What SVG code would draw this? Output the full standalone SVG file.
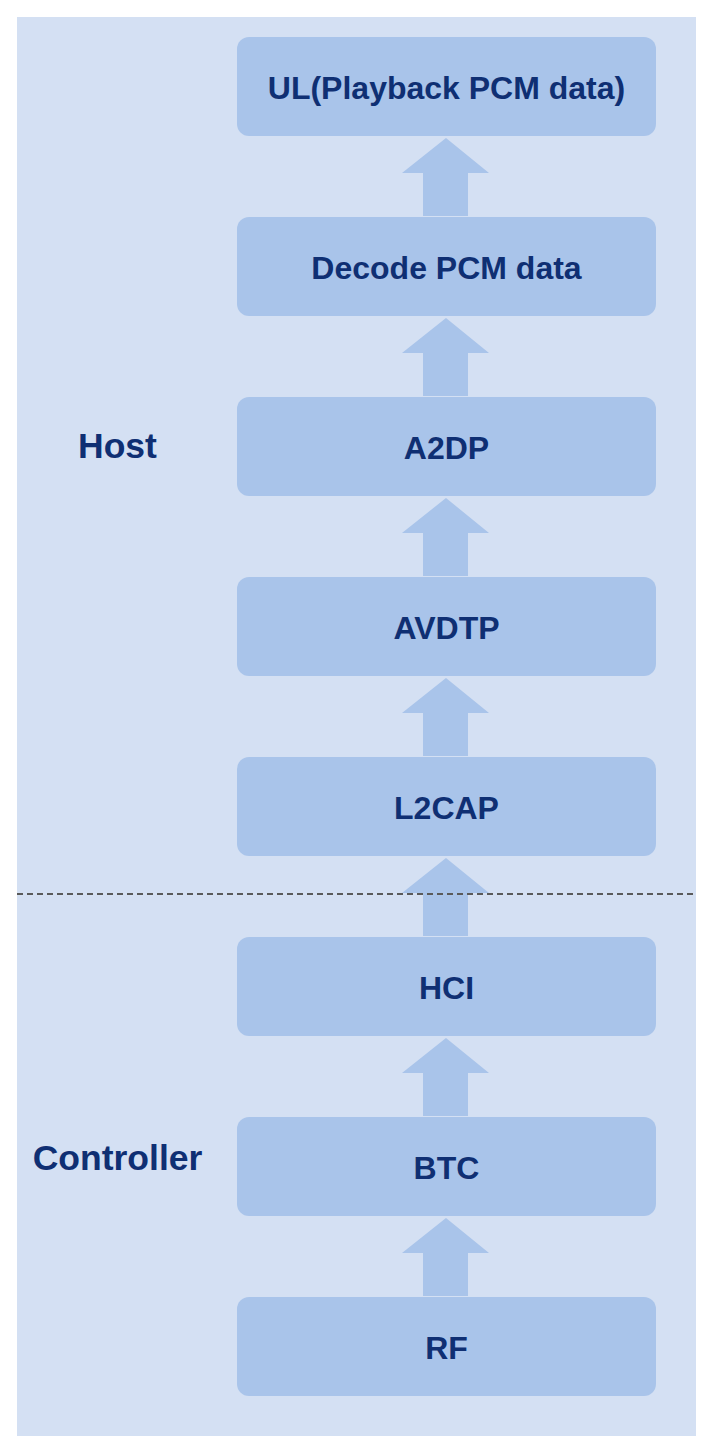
<svg xmlns="http://www.w3.org/2000/svg" width="716" height="1454" viewBox="0 0 716 1454">
<style>
.node rect{fill:#A9C4EA;}
.node text{font-family:"Liberation Sans",Arial,sans-serif;font-weight:bold;font-size:32px;fill:#0F2F73;text-anchor:middle;}
.lbl{font-family:"Liberation Sans",Arial,sans-serif;font-weight:bold;font-size:35.5px;fill:#0F2F73;text-anchor:middle;}
.arrow{fill:#A9C4EA;}
</style>
<defs>
<path id="up" d="M0,0 L43,35 L22,35 L22,78 L-23,78 L-23,35 L-44,35 Z"/>
</defs>
<rect x="0" y="0" width="716" height="1454" fill="#ffffff"/>
<rect id="bg" x="17" y="17" width="679" height="1419" fill="#D4E0F3"/>
<g id="n1" class="node"><rect x="237" y="37" width="419" height="99" rx="12"/><text x="446.5" y="98.5">UL(Playback PCM data)</text></g>
<g id="n2" class="node"><rect x="237" y="217" width="419" height="99" rx="12"/><text x="446.5" y="278.5">Decode PCM data</text></g>
<g id="n3" class="node"><rect x="237" y="397" width="419" height="99" rx="12"/><text x="446.5" y="458.5">A2DP</text></g>
<g id="n4" class="node"><rect x="237" y="577" width="419" height="99" rx="12"/><text x="446.5" y="638.5">AVDTP</text></g>
<g id="n5" class="node"><rect x="237" y="757" width="419" height="99" rx="12"/><text x="446.5" y="818.5">L2CAP</text></g>
<g id="n6" class="node"><rect x="237" y="937" width="419" height="99" rx="12"/><text x="446.5" y="998.5">HCI</text></g>
<g id="n7" class="node"><rect x="237" y="1117" width="419" height="99" rx="12"/><text x="446.5" y="1178.5">BTC</text></g>
<g id="n8" class="node"><rect x="237" y="1297" width="419" height="99" rx="12"/><text x="446.5" y="1358.5">RF</text></g>
<g id="connectors" class="arrow">
<use href="#up" x="446" y="138"/>
<use href="#up" x="446" y="318"/>
<use href="#up" x="446" y="498"/>
<use href="#up" x="446" y="678"/>
<use href="#up" x="446" y="858"/>
<use href="#up" x="446" y="1038"/>
<use href="#up" x="446" y="1218"/>
</g>
<line id="divider" x1="17" y1="894" x2="697" y2="894" stroke="#5a5a5a" stroke-width="1.8" stroke-dasharray="6 4"/>
<g id="labels">
<text class="lbl" x="117.5" y="457.5">Host</text>
<text class="lbl" x="117.5" y="1169.5">Controller</text>
</g>
</svg>
